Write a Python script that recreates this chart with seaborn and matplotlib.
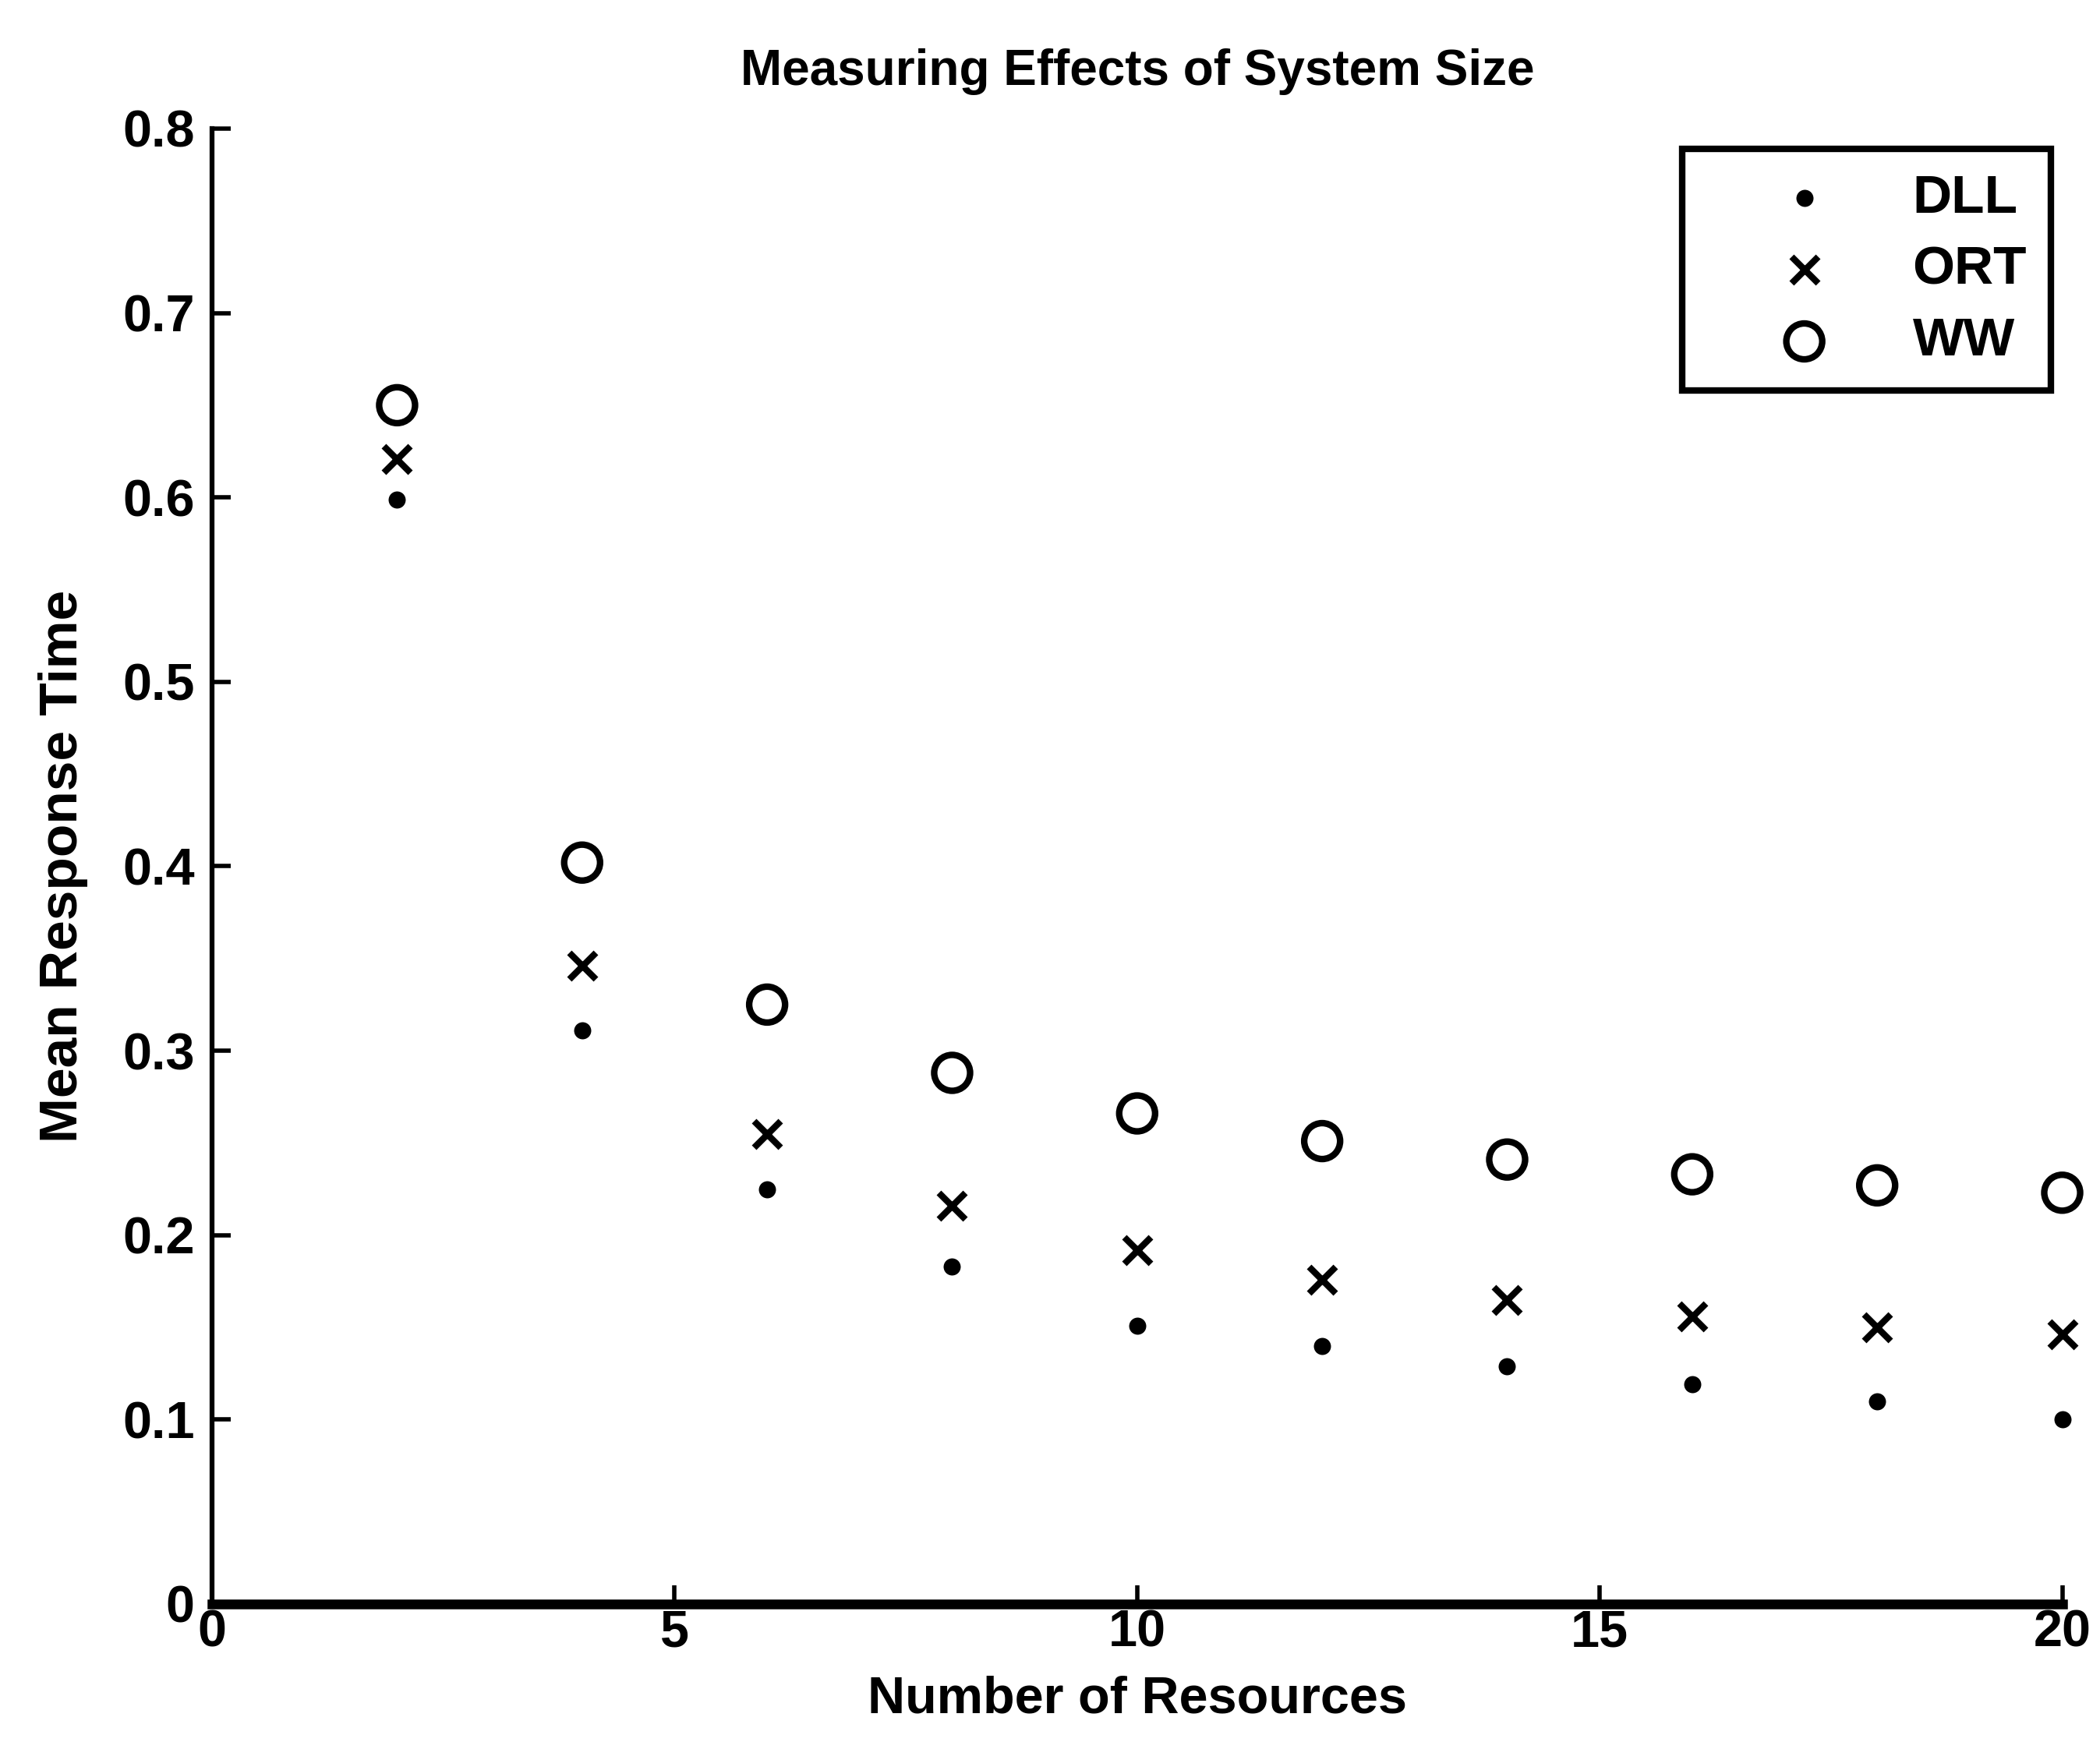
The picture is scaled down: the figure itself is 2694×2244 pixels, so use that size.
import pandas as pd
import matplotlib
matplotlib.use('Agg')
import matplotlib.pyplot as plt
import seaborn as sns

# values
resources = [2, 4, 6, 8, 10, 12, 14, 16, 18, 20]
dll = [0.599, 0.311, 0.225, 0.183, 0.151, 0.140, 0.129, 0.119, 0.110, 0.100]
ort = [0.621, 0.346, 0.255, 0.216, 0.192, 0.176, 0.165, 0.156, 0.150, 0.146]
ww = [0.650, 0.402, 0.325, 0.288, 0.266, 0.251, 0.241, 0.233, 0.227, 0.223]

yticks = [0, 0.1, 0.2, 0.3, 0.4, 0.5, 0.6, 0.7, 0.8]
ytick_labels = ['0', '0.1', '0.2', '0.3', '0.4', '0.5', '0.6', '0.7', '0.8']
xticks = [0, 5, 10, 15, 20]

data = pd.DataFrame({'Resources': resources, 'DLL': dll, 'ORT': ort, 'WW': ww})

sns.set_theme(style='ticks')
plt.rcParams['font.family'] = ['Liberation Sans', 'DejaVu Sans']
plt.rcParams['text.color'] = 'black'
plt.rcParams['axes.labelcolor'] = 'black'

fig = plt.figure(figsize=(26.94, 22.44), dpi=100)
ax = fig.add_axes([0.101, 0.0829, 0.881, 0.8436])

# DLL: small dots
sns.scatterplot(x='Resources', y='DLL', data=data, ax=ax, marker='o', s=250,
                color='black', edgecolor='black', linewidth=0, label='DLL', clip_on=False)
# ORT: crosses
sns.scatterplot(x='Resources', y='ORT', data=data, ax=ax, marker='x', s=600,
                color='black', linewidth=6, label='ORT', clip_on=False)
# WW: open circles
sns.scatterplot(x='Resources', y='WW', data=data, ax=ax, marker='o', s=1100,
                facecolor='none', edgecolor='black', linewidth=6, label='WW', clip_on=False)

ax.set_xlim(0, 20)
ax.set_ylim(0, 0.8)
ax.set_xticks(xticks)
ax.set_xticklabels([str(v) for v in xticks])
ax.set_yticks(yticks)
ax.set_yticklabels(ytick_labels)

for side in ['top', 'right']:
    ax.spines[side].set_visible(False)
ax.spines['left'].set_linewidth(4.5)
ax.spines['bottom'].set_linewidth(9)
ax.spines['left'].set_color('black')
ax.spines['bottom'].set_color('black')

ax.tick_params(axis='both', direction='in', length=17, width=4, colors='black')
ax.tick_params(axis='y', pad=16)
ax.tick_params(axis='x', pad=5)
for lab in ax.get_xticklabels() + ax.get_yticklabels():
    lab.set_fontsize(48)
    lab.set_fontweight('bold')

ax.set_title('Measuring Effects of System Size', fontsize=46, fontweight='bold', pad=40)
ax.set_xlabel('Number of Resources', fontsize=48, fontweight='bold', labelpad=16)
ax.set_ylabel('Mean Response Time', fontsize=50, fontweight='bold', labelpad=32)

leg = ax.legend(loc='upper right', bbox_to_anchor=(0.994, 0.986), borderaxespad=0,
                fancybox=False, framealpha=1, edgecolor='black',
                prop={'weight': 'bold', 'size': 50},
                handlelength=3.6, handletextpad=0.2, borderpad=0.45, labelspacing=0.4)
leg.get_frame().set_linewidth(6)

fig.savefig('out.png', dpi=100, facecolor='white')
